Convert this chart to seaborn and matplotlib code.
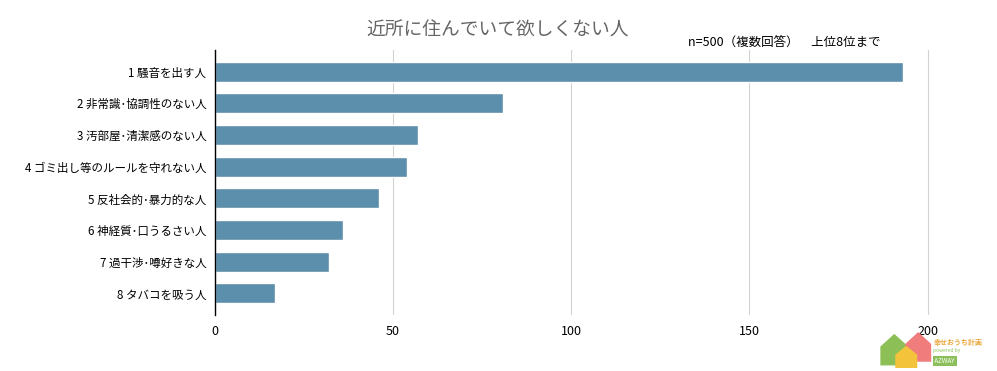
import matplotlib
matplotlib.use("Agg")
import matplotlib.pyplot as plt
from matplotlib.patches import Polygon
import seaborn as sns
import pandas as pd

categories = ["1 騒音を出す人", "2 非常識･協調性のない人", "3 汚部屋･清潔感のない人",
              "4 ゴミ出し等のルールを守れない人", "5 反社会的･暴力的な人",
              "6 神経質･口うるさい人", "7 過干渉･噂好きな人", "8 タバコを吸う人"]
values = [193, 81, 57, 54, 46, 36, 32, 17]
xticks = [0, 50, 100, 150, 200]

sns.set_theme(style="white")
plt.rcParams['font.family'] = ['Noto Sans CJK JP', 'DejaVu Sans']

df = pd.DataFrame({"item": categories, "count": values})

fig = plt.figure(figsize=(9.97, 3.71), dpi=100)
ax = fig.add_axes([0.2153, 0.151, 0.7626, 0.714])
sns.barplot(data=df, y="item", x="count", orient="h", color="#5b8fab",
            saturation=1, width=0.63, ax=ax, zorder=3)
ax.set_xlim(0, 213.3)
ax.set_ylim(7.68, -0.68)
ax.set_xticks(xticks)
ax.set_xticklabels([str(t) for t in xticks])
ax.set_xlabel("")
ax.set_ylabel("")
ax.grid(axis="x", color="#d3d3d3", linewidth=0.8, zorder=0)
ax.grid(axis="y", visible=False)
for s in ["top", "right", "bottom"]:
    ax.spines[s].set_visible(False)
ax.spines["left"].set_color("#000000")
ax.spines["left"].set_linewidth(1)
ax.spines["left"].set_zorder(4)
ax.tick_params(axis="both", length=0, colors="#000000")
ax.tick_params(axis="y", pad=6, labelsize=8.3)
ax.tick_params(axis="x", pad=7, labelsize=9)

fig.text(0.499, 0.918, "近所に住んでいて欲しくない人", ha="center", va="center",
         fontsize=13.5, color="#666666")
fig.text(0.69, 0.885, "n=500（複数回答）　上位8位まで", ha="left", va="center",
         fontsize=9, color="#000000")

# logo approximation (decorative)
def house(x0, w, y0, h, color):
    pts = [(x0, y0), (x0 + w, y0), (x0 + w, y0 + h * 0.6),
           (x0 + w / 2, y0 + h), (x0, y0 + h * 0.6)]
    fig.patches.append(Polygon(pts, closed=True, transform=fig.transFigure,
                               fc=color, ec="none", zorder=1))

house(0.883, 0.028, 0.015, 0.085, "#8cc056")
house(0.908, 0.026, 0.025, 0.08, "#f07c7c")
house(0.898, 0.022, 0.008, 0.06, "#f2c33b")
fig.text(0.936, 0.078, "幸せおうち計画", ha="left", va="center", fontsize=5,
         color="#e8a83a", fontweight="bold")
fig.text(0.936, 0.055, "powered by", ha="left", va="center", fontsize=3.5, color="#8bbf5a")
fig.text(0.936, 0.027, " AZWAY ", ha="left", va="center", fontsize=4.5, color="white",
         bbox=dict(boxstyle="square,pad=0.1", fc="#8bbf5a", ec="none"))

fig.savefig("out.png", dpi=100)
